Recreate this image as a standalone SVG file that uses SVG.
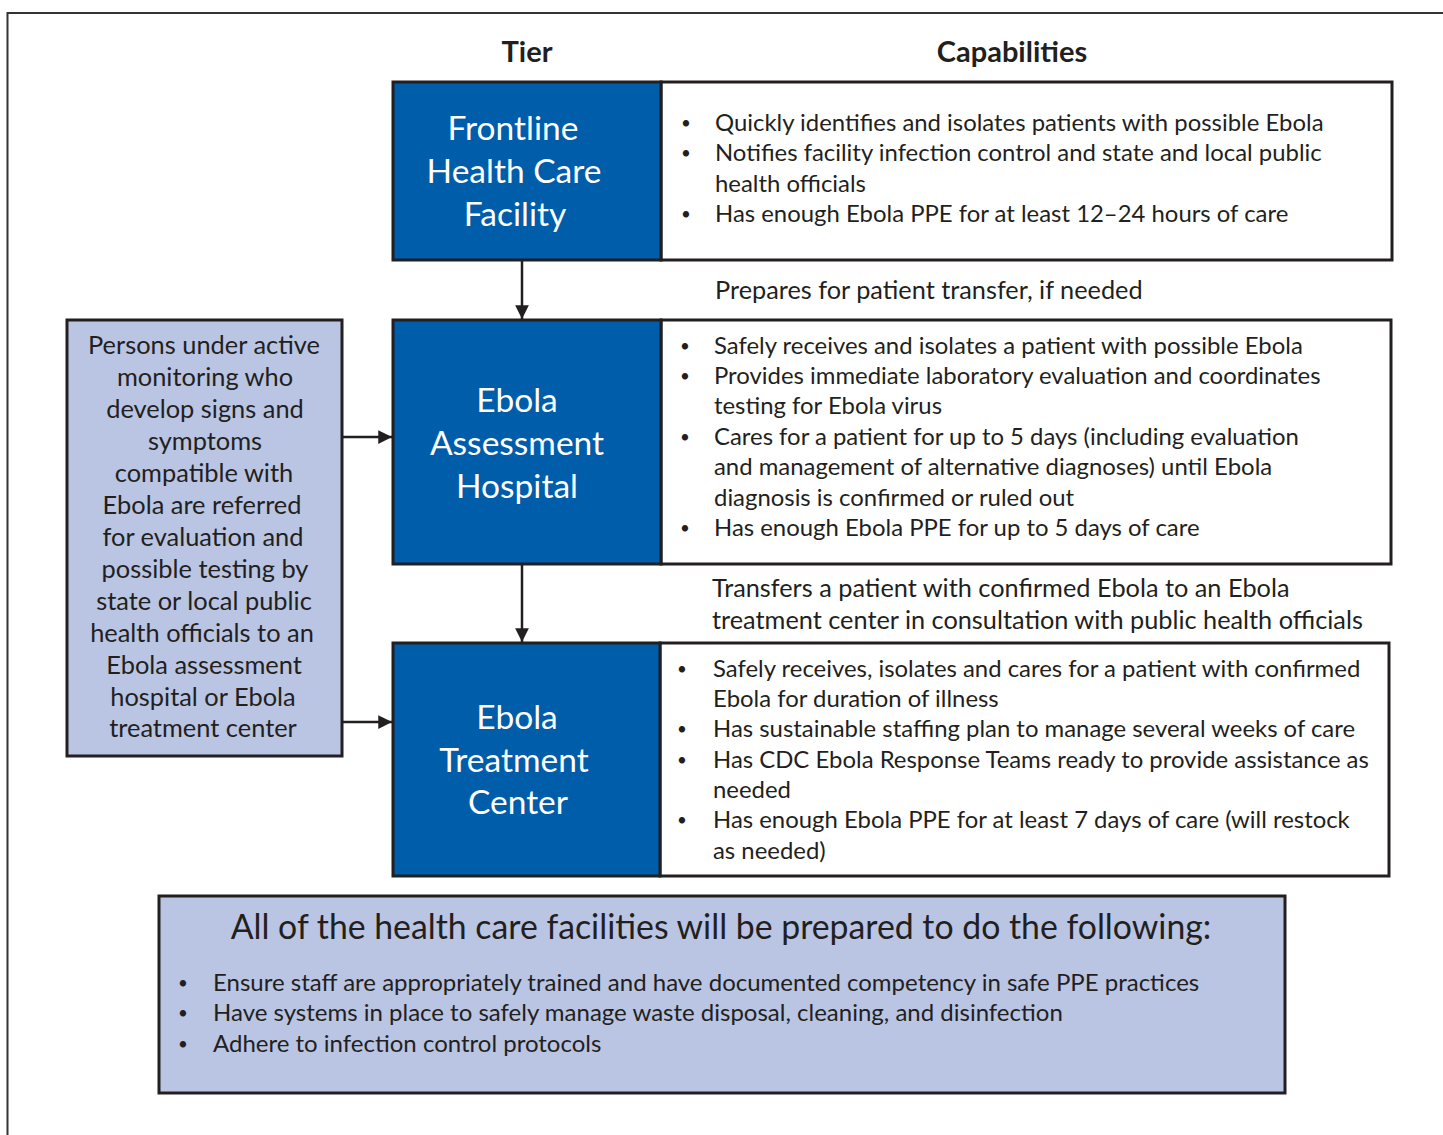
<svg xmlns="http://www.w3.org/2000/svg" width="1443" height="1135" viewBox="0 0 1443 1135">
<style>
text{font-family:Lato,"Liberation Sans",sans-serif;fill:#231F20}
.hd{font-size:29px;font-weight:bold;text-anchor:middle}
.tier{fill:#005DAA;stroke:#231F20;stroke-width:3}
.cap{fill:#FFFFFF;stroke:#231F20;stroke-width:3}
.lite{fill:#B9C5E3;stroke:#231F20;stroke-width:3}
.tl{font-size:33.5px;fill:#FFFFFF;text-anchor:middle}
.b{font-size:23.9px}
.d{font-size:17px}
.mid{font-size:25.3px}
.bot{font-size:24px}
.side{font-size:25.4px;text-anchor:middle}
.conn{stroke:#231F20;stroke-width:2.5;fill:none}
</style>
<defs>
<marker id="ah" viewBox="0 0 10 10" refX="10" refY="5" markerWidth="5.5" markerHeight="5.5" orient="auto" markerUnits="strokeWidth">
<path d="M0,0 L10,5 L0,10 z" fill="#231F20"/>
</marker>
</defs>
<rect width="1443" height="1135" fill="#FFFFFF"/>
<path d="M7.5,1135 V13 H1443" fill="none" stroke="#333333" stroke-width="2"/>
<text class="hd" x="527" y="62">Tier</text>
<text class="hd" x="1012" y="62">Capabilities</text>

<g id="frontline">
<rect class="cap" x="661" y="82" width="731" height="178"/>
<rect class="tier" x="393" y="82" width="268" height="178"/>
<text class="tl" x="513" y="140">Frontline</text>
<text class="tl" x="514" y="183">Health Care</text>
<text class="tl" x="515" y="226">Facility</text>
<g class="b">
<text class="d" x="681" y="129">•</text><text x="715" y="131">Quickly identifies and isolates patients with possible Ebola</text>
<text class="d" x="681" y="159">•</text><text x="715" y="161">Notifies facility infection control and state and local public</text>
<text x="715" y="192">health officials</text>
<text class="d" x="681" y="220">•</text><text x="715" y="222">Has enough Ebola PPE for at least 12–24 hours of care</text>
</g>
</g>

<g id="transfer-prep">
<text class="mid" x="715" y="299">Prepares for patient transfer, if needed</text>
</g>

<g id="assessment">
<rect class="cap" x="661" y="320" width="730" height="244"/>
<rect class="tier" x="393" y="320" width="268" height="244"/>
<text class="tl" x="517" y="412">Ebola</text>
<text class="tl" x="517" y="455">Assessment</text>
<text class="tl" x="517" y="498">Hospital</text>
<g class="b">
<text class="d" x="680" y="352">•</text><text x="714" y="354">Safely receives and isolates a patient with possible Ebola</text>
<text class="d" x="680" y="382">•</text><text x="714" y="384">Provides immediate laboratory evaluation and coordinates</text>
<text x="714" y="414">testing for Ebola virus</text>
<text class="d" x="680" y="443">•</text><text x="714" y="445">Cares for a patient for up to 5 days (including evaluation</text>
<text x="714" y="475">and management of alternative diagnoses) until Ebola</text>
<text x="714" y="506">diagnosis is confirmed or ruled out</text>
<text class="d" x="680" y="534">•</text><text x="714" y="536">Has enough Ebola PPE for up to 5 days of care</text>
</g>
</g>

<g id="transfer-confirmed">
<text class="mid" x="712" y="597">Transfers a patient with confirmed Ebola to an Ebola</text>
<text class="mid" x="712" y="629">treatment center in consultation with public health officials</text>
</g>

<g id="treatment">
<rect class="cap" x="660" y="643" width="729" height="233"/>
<rect class="tier" x="393" y="643" width="267" height="233"/>
<text class="tl" x="517" y="729">Ebola</text>
<text class="tl" x="514" y="772">Treatment</text>
<text class="tl" x="518" y="814">Center</text>
<g class="b">
<text class="d" x="677" y="675">•</text><text x="713" y="677">Safely receives, isolates  and cares for a patient with confirmed</text>
<text x="713" y="707">Ebola for duration of illness</text>
<text class="d" x="677" y="735">•</text><text x="713" y="737">Has sustainable staffing plan to manage several weeks of care</text>
<text class="d" x="677" y="766">•</text><text x="713" y="768">Has CDC Ebola Response Teams ready to provide assistance as</text>
<text x="713" y="798">needed</text>
<text class="d" x="677" y="826">•</text><text x="713" y="828">Has enough Ebola PPE for at least 7 days of care (will restock</text>
<text x="713" y="859">as needed)</text>
</g>
</g>

<g id="persons">
<rect class="lite" x="67" y="320" width="275" height="436"/>
<g class="side">
<text x="204" y="354">Persons under active</text>
<text x="205" y="386">monitoring who</text>
<text x="205" y="418">develop signs and</text>
<text x="205" y="450">symptoms</text>
<text x="204" y="482">compatible with</text>
<text x="202" y="514">Ebola are referred</text>
<text x="203" y="546">for evaluation and</text>
<text x="205" y="578">possible testing by</text>
<text x="204" y="610">state or local public</text>
<text x="202" y="642">health officials to an</text>
<text x="204" y="674">Ebola assessment</text>
<text x="203" y="706">hospital or Ebola</text>
<text x="203" y="737">treatment center</text>
</g>
</g>

<g id="all-facilities">
<rect class="lite" x="159" y="896" width="1126" height="197"/>
<text x="721" y="939" style="font-size:33.8px;text-anchor:middle">All of the health care facilities will be prepared to do the following:</text>
<g class="bot">
<text class="d" x="178" y="989">•</text><text x="213" y="991">Ensure staff are appropriately trained and have documented competency in safe PPE practices</text>
<text class="d" x="178" y="1019">•</text><text x="213" y="1021">Have systems in place to safely manage waste disposal, cleaning, and disinfection</text>
<text class="d" x="178" y="1050">•</text><text x="213" y="1052">Adhere to infection control protocols</text>
</g>
</g>

<g id="connectors">
<line class="conn" x1="522" y1="260" x2="522" y2="319" marker-end="url(#ah)"/>
<line class="conn" x1="522" y1="564" x2="522" y2="642" marker-end="url(#ah)"/>
<line class="conn" x1="342" y1="437" x2="392" y2="437" marker-end="url(#ah)"/>
<line class="conn" x1="342" y1="722" x2="392" y2="722" marker-end="url(#ah)"/>
</g>
</svg>
